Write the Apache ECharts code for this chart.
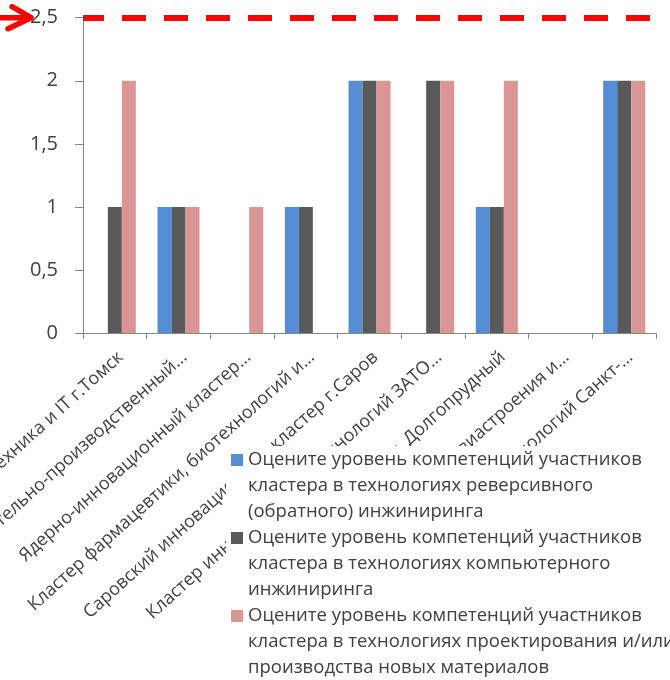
<!DOCTYPE html>
<html>
<head>
<meta charset="utf-8">
<script src="https://cdn.jsdelivr.net/npm/echarts@6/dist/echarts.min.js"></script>
<style>
  html, body { margin: 0; padding: 0; background: #fff; }
  #chart { width: 670px; height: 680px; }
</style>
</head>
<body>
<div id="chart"></div>
<script>
// Clusters (category axis labels, already shortened for display)
const clusters = [
  'Фармацевтика, медицинская техника и IT г.Томск',
  'Научно-образовательно-производственный…',
  'Ядерно-инновационный кластер…',
  'Кластер фармацевтики, биотехнологий и…',
  'Саровский инновационный кластер г.Саров',
  'Кластер инновационных технологий ЗАТО…',
  'Кластер «Физтех XXI» г. Долгопрудный',
  'Кластер авиастроения и…',
  'Кластер медицинских технологий Санкт-…'
];

// Competence scores per cluster
const reverseEngineering = [0, 1, 0, 1, 2, 0, 1, 0, 2];
const computerEngineering = [1, 1, 0, 1, 2, 2, 1, 0, 2];
const newMaterials = [2, 1, 1, 0, 2, 2, 2, 0, 2];

const seriesNames = [
  'Оцените уровень компетенций участников кластера в технологиях реверсивного (обратного) инжиниринга',
  'Оцените уровень компетенций участников кластера в технологиях компьютерного инжиниринга',
  'Оцените уровень компетенций участников кластера в технологиях проектирования и/или производства новых материалов'
];

// Wrapped legend text; two leading blank lines keep the marker level with the first line
const legendLines = {};
legendLines[seriesNames[0]] = '\n\nОцените уровень компетенций участников\nкластера в технологиях реверсивного\n(обратного) инжиниринга';
legendLines[seriesNames[1]] = '\n\nОцените уровень компетенций участников\nкластера в технологиях компьютерного\nинжиниринга';
legendLines[seriesNames[2]] = '\n\nОцените уровень компетенций участников\nкластера в технологиях проектирования и/или\nпроизводства новых материалов';

// Target level marked by the dashed line
const targetLevel = 2.5;

const FONT = '"Open Sans", "Noto Sans", sans-serif';
const TEXT = '#404040';
const AXIS = '#868686';
const colors = ['#558ED5', '#595959', '#D99694'];

const chart = echarts.init(document.getElementById('chart'), null, { renderer: 'canvas' });

const barBase = { type: 'bar', barWidth: 14, barGap: '0%', animation: false };

chart.setOption({
  animation: false,
  textStyle: { fontFamily: FONT },
  grid: {
    left: 83, top: 17.7, right: 14, bottom: 347,
    containLabel: false,
    outerBoundsMode: 'none'
  },
  xAxis: {
    type: 'category',
    data: clusters,
    axisLine: { lineStyle: { color: AXIS, width: 1 } },
    axisTick: { show: true, length: 6, lineStyle: { color: AXIS } },
    axisLabel: {
      interval: 0,
      rotate: 42,
      margin: 15,
      hideOverlap: false,
      verticalAlign: 'top',
      fontFamily: FONT,
      fontSize: 18,
      color: TEXT
    },
    splitLine: { show: false }
  },
  yAxis: {
    type: 'value',
    min: 0,
    max: 2.5,
    interval: 0.5,
    axisLine: { show: true, lineStyle: { color: AXIS, width: 1 } },
    axisTick: { show: true, length: 8, lineStyle: { color: AXIS } },
    axisLabel: {
      margin: 25,
      fontFamily: FONT,
      fontSize: 20,
      color: TEXT,
      formatter: v => String(v).replace('.', ',')
    },
    splitLine: { show: false }
  },
  legend: {
    orient: 'vertical',
    left: 231,
    top: 395,
    height: 500,
    padding: 0,
    icon: 'rect',
    itemWidth: 12,
    itemHeight: 12,
    itemGap: -52,
    z: 10,
    data: seriesNames,
    formatter: name => legendLines[name],
    textStyle: {
      fontFamily: FONT,
      fontSize: 18.5,
      color: TEXT,
      lineHeight: 26
    }
  },
  series: [
    Object.assign({}, barBase, {
      name: seriesNames[0],
      data: reverseEngineering,
      itemStyle: { color: colors[0] },
      markLine: {
        silent: true,
        symbol: ['none', 'none'],
        label: { show: false },
        lineStyle: { color: '#FF0000', width: 6, type: [24, 18], dashOffset: 3 },
        data: [{ yAxis: targetLevel }]
      }
    }),
    Object.assign({}, barBase, {
      name: seriesNames[1],
      data: computerEngineering,
      itemStyle: { color: colors[1] }
    }),
    Object.assign({}, barBase, {
      name: seriesNames[2],
      data: newMaterials,
      itemStyle: { color: colors[2] }
    })
  ]
});

// Arrow pointing at the target level label, plus a white panel behind the legend
const yTarget = chart.convertToPixel({ yAxisIndex: 0 }, targetLevel);
chart.setOption({
  graphic: [
    {
      type: 'rect',
      z: 5,
      silent: true,
      shape: { x: 226, y: 446, width: 444, height: 234 },
      style: { fill: '#fff' }
    },
    {
      type: 'polyline',
      z: 6,
      silent: true,
      shape: { points: [[0, yTarget], [29, yTarget]] },
      style: { stroke: '#FF0000', lineWidth: 5.5, lineCap: 'round', fill: null }
    },
    {
      type: 'polyline',
      z: 6,
      silent: true,
      shape: { points: [[12, yTarget - 11], [31, yTarget], [8, yTarget + 11]] },
      style: { stroke: '#FF0000', lineWidth: 5.5, lineCap: 'round', lineJoin: 'round', fill: null }
    }
  ]
});
</script>
</body>
</html>
